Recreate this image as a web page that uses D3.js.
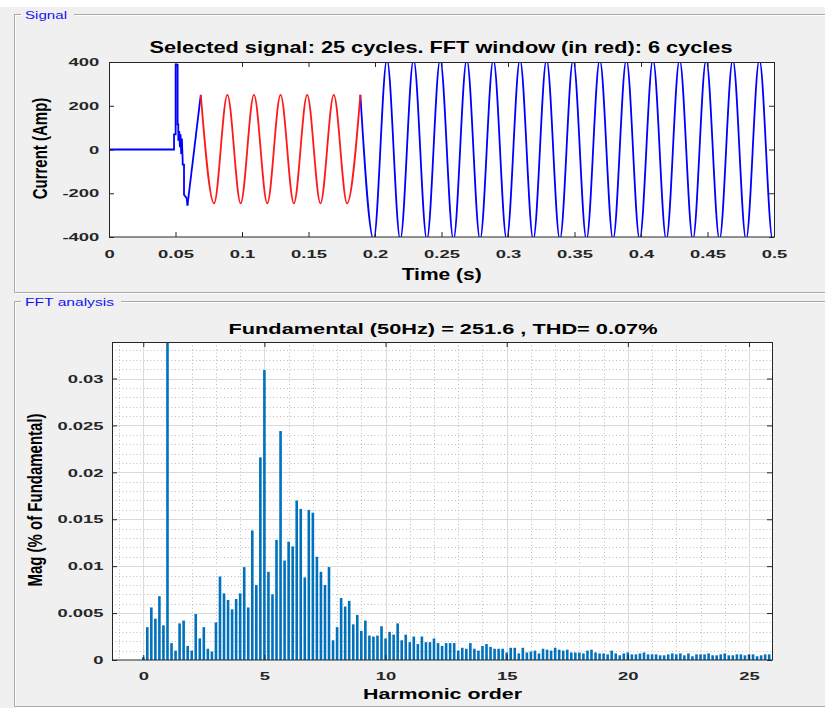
<!DOCTYPE html>
<html lang="en">
<head>
<meta charset="UTF-8">
<title>Signal and FFT analysis</title>
<script src="https://d3js.org/d3.v7.min.js"></script>
<style>
  body { margin: 0; background: #f0f0f0; }
  svg { display: block; font-family: "Liberation Sans", Arial, sans-serif; }
  .tick text { font-weight: bold; font-size: 11.5px; fill: #262626; }
  .tick line { stroke: #262626; }
  .domain { display: none; }
</style>
</head>
<body>
<svg width="825" height="708"></svg>
<script>
// ---- data ----
// signal: switching transient at 0.05 s (drawn as read)
const transientPts = [
  [0, 0], [0.0489, 0], [0.0489, 69], [0.0501, 69], [0.0501, 388], [0.0516, 388],
  [0.0516, 115], [0.0521, 115], [0.0521, 40], [0.0528, 84], [0.0533, 10], [0.0538, 70],
  [0.0543, -20], [0.0548, 50], [0.0554, -54], [0.0554, -69], [0.0564, -69],
  [0.0564, -207], [0.0584, -222], [0.059, -256]
];
// half-cycle peaks / troughs of the current after the transient
const extremaT = [0.059, 0.069, 0.079, 0.089, 0.099, 0.109, 0.119, 0.129, 0.139, 0.149,
  0.159, 0.169, 0.179, 0.189, 0.199, 0.209, 0.219, 0.229, 0.239, 0.249, 0.259, 0.269,
  0.279, 0.289, 0.299, 0.309, 0.319, 0.329, 0.339, 0.349, 0.359, 0.369, 0.379, 0.389,
  0.399, 0.409, 0.419, 0.429, 0.439, 0.449, 0.459, 0.469, 0.479, 0.489, 0.499, 0.5];
const extremaI = [-256, 250, -246, 250, -246, 250, -246, 250, -246, 250,
  -246, 250, -246, 250, -412, 412, -412, 412, -412, 412, -412, 412,
  -412, 412, -412, 412, -412, 412, -412, 412, -412, 412, -412, 412,
  -412, 412, -412, 412, -412, 412, -412, 412, -412, 412, -412, -410];
const fftWindow = [0.069, 0.189];   // red part

const timeTicks = [0, 0.05, 0.1, 0.15, 0.2, 0.25, 0.3, 0.35, 0.4, 0.45, 0.5];
const timeLabels = ["0", "0.05", "0.1", "0.15", "0.2", "0.25", "0.3", "0.35", "0.4", "0.45", "0.5"];
const currTicks = [-400, -200, 0, 200, 400];
const currLabels = ["-400", "-200", "0", "200", "400"];

// FFT magnitudes, one bar every 1/6 harmonic (6-cycle window); index 6 = fundamental
const fftMag = [
  0.0003, 0.0035, 0.0056, 0.0044, 0.0068, 0.0037, 100, 0.0018, 0.0010, 0.0039,
  0.0042, 0.0015, 0.0010, 0.0049, 0.0023, 0.0035, 0.0012, 0.0009, 0.0040, 0.0089,
  0.0071, 0.0064, 0.0054, 0.0065, 0.0071, 0.0099, 0.0056, 0.0138, 0.0080, 0.0216,
  0.0309, 0.0094, 0.0070, 0.0128, 0.0244, 0.0106, 0.0126, 0.0121, 0.0170, 0.0161,
  0.0088, 0.0160, 0.0157, 0.0110, 0.0094, 0.0080, 0.0099, 0.0021, 0.0035, 0.0066,
  0.0057, 0.0063, 0.0038, 0.0048, 0.0031, 0.0042, 0.0026, 0.0025, 0.0026, 0.0036,
  0.0023, 0.0030, 0.0027, 0.0039, 0.0021, 0.0027, 0.0019, 0.0025, 0.0017, 0.0025,
  0.0019, 0.0019, 0.0023, 0.0018, 0.0015, 0.0018, 0.0018, 0.0018, 0.0010, 0.0013,
  0.0012, 0.0018, 0.0012, 0.0010, 0.0015, 0.0017, 0.0014, 0.0012, 0.0012, 0.0012,
  0.0008, 0.0013, 0.0013, 0.0007, 0.0013, 0.0008, 0.0009, 0.0010, 0.0007, 0.0012,
  0.0011, 0.0010, 0.0013, 0.0011, 0.0010, 0.0011, 0.0008, 0.0008, 0.0008, 0.0007,
  0.0010, 0.0011, 0.0008, 0.0007, 0.0007, 0.0006, 0.0010, 0.0007, 0.0005, 0.0007,
  0.0008, 0.0006, 0.0006, 0.0007, 0.0008, 0.0006, 0.0006, 0.0006, 0.0005, 0.0005,
  0.0006, 0.0007, 0.0006, 0.0007, 0.0005, 0.0007, 0.0004, 0.0006, 0.0006, 0.0006,
  0.0007, 0.0005, 0.0005, 0.0006, 0.0007, 0.0005, 0.0005, 0.0006, 0.0006, 0.0005,
  0.0006, 0.0006, 0.0004, 0.0005, 0.0006, 0.0006
];
const binsPerHarmonic = 6;

const orderTicks = [0, 5, 10, 15, 20, 25];
const orderLabels = ["0", "5", "10", "15", "20", "25"];
const magTicks = [0, 0.005, 0.01, 0.015, 0.02, 0.025, 0.03];
const magLabels = ["0", "0.005", "0.01", "0.015", "0.02", "0.025", "0.03"];

// ---- drawing ----
const svg = d3.select("svg");
const axisCol = "#262626";

// white strip at the very top of the window
svg.append("rect").attr("x", 0).attr("y", 0).attr("width", 825).attr("height", 7).attr("fill", "#fff");

// stretch text horizontally like the reference screenshot
function widen(sel, k) {
  sel.each(function () {
    const w = this.getComputedTextLength();
    d3.select(this).attr("textLength", w * k).attr("lengthAdjust", "spacingAndGlyphs");
  });
}

function panel(top, bottom, label, labelW) {
  const g = svg.append("g");
  const etched = (x1, y1, x2, y2) => {
    g.append("line").attr("x1", x1).attr("y1", y1).attr("x2", x2).attr("y2", y2)
      .attr("stroke", "#a8a8a8");
    g.append("line").attr("x1", x1 + 1).attr("y1", y1 + 1).attr("x2", x2 + 1).attr("y2", y2 + 1)
      .attr("stroke", "#fff");
  };
  etched(14.5, top, 21, top);
  etched(25 + labelW + 7, top, 826, top);
  etched(14.5, top, 14.5, bottom);
  etched(14.5, bottom, 826, bottom);
  g.append("text").attr("x", 25).attr("y", top + 4.5)
    .attr("font-size", 11).attr("fill", "#1414f0").text(label)
    .attr("textLength", labelW).attr("lengthAdjust", "spacingAndGlyphs");
}
panel(14.5, 292.5, "Signal", 42);
panel(301.5, 706.5, "FFT analysis", 89);

function boldText(x, y, txt, size, width) {
  return svg.append("text").attr("x", x).attr("y", y).attr("text-anchor", "middle")
    .attr("font-weight", "bold").attr("font-size", size).attr("fill", "#000")
    .attr("textLength", width).attr("lengthAdjust", "spacingAndGlyphs").text(txt);
}
function yTitle(x, y, txt, size) {
  svg.append("text").attr("transform", `translate(${x},${y}) rotate(-90) scale(1,1.32)`)
    .attr("text-anchor", "middle").attr("font-weight", "bold").attr("font-size", size)
    .attr("fill", "#000").text(txt);
}

// ================= signal panel =================
const s = { l: 109, r: 774, t: 62, b: 237 };
const x1 = d3.scaleLinear().domain([0, 0.5]).range([s.l, s.r]);
const y1 = d3.scaleLinear().domain([-400, 400]).range([s.b, s.t]);

svg.append("rect").attr("x", s.l).attr("y", s.t).attr("width", s.r - s.l).attr("height", s.b - s.t)
  .attr("fill", "#fff");
svg.append("clipPath").attr("id", "clipSig").append("rect")
  .attr("x", s.l).attr("y", s.t).attr("width", s.r - s.l).attr("height", s.b - s.t);

const steady = extremaT.map((t, i) => [t, extremaI[i]]);
const eps = 1e-9;
const beforeWin = steady.filter(d => d[0] <= fftWindow[0] + eps);
const inWin = steady.filter(d => d[0] >= fftWindow[0] - eps && d[0] <= fftWindow[1] + eps);
const afterWin = steady.filter(d => d[0] >= fftWindow[1] - eps);

const lineLin = d3.line().x(d => x1(d[0])).y(d => y1(d[1]));
const lineSmooth = d3.line().x(d => x1(d[0])).y(d => y1(d[1])).curve(d3.curveMonotoneX);

const sig = svg.append("g").attr("clip-path", "url(#clipSig)")
  .attr("fill", "none").attr("stroke-width", 1.8);
sig.append("path").attr("d", lineLin(transientPts)).attr("stroke", "#0000ff");
sig.append("path").attr("d", lineSmooth(beforeWin)).attr("stroke", "#0000ff");
sig.append("path").attr("d", lineSmooth(afterWin)).attr("stroke", "#0000ff");
sig.append("path").attr("d", lineSmooth(inWin)).attr("stroke", "#ff1a1a");

svg.append("g").attr("transform", `translate(0,${s.b})`)
  .call(d3.axisBottom(x1).tickValues(timeTicks).tickFormat((d, i) => timeLabels[i])
    .tickSize(-5).tickPadding(13))
  .selectAll("text").call(widen, 1.6);
svg.append("g").attr("transform", `translate(0,${s.t})`)
  .call(d3.axisTop(x1).tickValues(timeTicks).tickFormat("").tickSize(-5));
svg.append("g").attr("transform", `translate(${s.l},0)`)
  .call(d3.axisLeft(y1).tickValues(currTicks).tickFormat((d, i) => currLabels[i])
    .tickSize(-5).tickPadding(9.7))
  .selectAll("text").call(widen, 1.6);
svg.append("g").attr("transform", `translate(${s.r},0)`)
  .call(d3.axisRight(y1).tickValues(currTicks).tickFormat("").tickSize(-5));
svg.append("rect").attr("x", s.l + 0.5).attr("y", s.t + 0.5).attr("width", s.r - s.l)
  .attr("height", s.b - s.t - 0.5).attr("fill", "none").attr("stroke", axisCol);

boldText(441, 52.5, "Selected signal: 25 cycles. FFT window (in red): 6 cycles", 16.5, 583);
boldText(441.7, 279.5, "Time (s)", 16, 80);
yTitle(47, 148.5, "Current (Amp)", 15);

// ================= FFT panel =================
const f = { l: 112, r: 772, t: 342, b: 660 };
const x2 = d3.scaleLinear().domain([-1.29, 25.95]).range([f.l, f.r]);
const y2 = d3.scaleLinear().domain([0, 0.03]).range([f.b, 378.5]);

svg.append("rect").attr("x", f.l).attr("y", f.t).attr("width", f.r - f.l).attr("height", f.b - f.t)
  .attr("fill", "#fff");
svg.append("clipPath").attr("id", "clipFft").append("rect")
  .attr("x", f.l).attr("y", f.t).attr("width", f.r - f.l).attr("height", f.b - f.t);

const grid = svg.append("g").attr("clip-path", "url(#clipFft)");
const minorX = d3.range(-1, 26).filter(v => v % 5 !== 0);
const minorY = d3.range(1, 34).map(v => v / 1000).filter((v, i) => (i + 1) % 5 !== 0);
grid.selectAll(".mx").data(minorX).join("line")
  .attr("x1", d => Math.round(x2(d)) + 0.5).attr("x2", d => Math.round(x2(d)) + 0.5)
  .attr("y1", f.t).attr("y2", f.b)
  .attr("stroke", "#bdbdbd").attr("stroke-dasharray", "1,2.5");
grid.selectAll(".my").data(minorY).join("line")
  .attr("y1", d => Math.round(y2(d)) + 0.5).attr("y2", d => Math.round(y2(d)) + 0.5)
  .attr("x1", f.l).attr("x2", f.r)
  .attr("stroke", "#bdbdbd").attr("stroke-dasharray", "1,2.5");
grid.selectAll(".gx").data(orderTicks).join("line")
  .attr("x1", d => Math.round(x2(d)) + 0.5).attr("x2", d => Math.round(x2(d)) + 0.5)
  .attr("y1", f.t).attr("y2", f.b).attr("stroke", "#dadada");
grid.selectAll(".gy").data(magTicks.slice(1)).join("line")
  .attr("y1", d => Math.round(y2(d)) + 0.5).attr("y2", d => Math.round(y2(d)) + 0.5)
  .attr("x1", f.l).attr("x2", f.r).attr("stroke", "#dadada");

const barW = 2.6;
grid.selectAll(".bar").data(fftMag).join("rect")
  .attr("x", (d, i) => x2(i / binsPerHarmonic) - barW / 2)
  .attr("y", d => y2(d))
  .attr("width", barW)
  .attr("height", d => f.b - y2(d))
  .attr("fill", "#0072bd");

svg.append("g").attr("transform", `translate(0,${f.b})`)
  .call(d3.axisBottom(x2).tickValues(orderTicks).tickFormat((d, i) => orderLabels[i])
    .tickSize(-5).tickPadding(12))
  .selectAll("text").call(widen, 1.6);
svg.append("g").attr("transform", `translate(0,${f.t})`)
  .call(d3.axisTop(x2).tickValues(orderTicks).tickFormat("").tickSize(-5));
svg.append("g").attr("transform", `translate(${f.l},0)`)
  .call(d3.axisLeft(y2).tickValues(magTicks).tickFormat((d, i) => magLabels[i])
    .tickSize(-5).tickPadding(8.5))
  .selectAll("text").call(widen, 1.6);
svg.append("g").attr("transform", `translate(${f.r},0)`)
  .call(d3.axisRight(y2).tickValues(magTicks).tickFormat("").tickSize(-5));
svg.append("rect").attr("x", f.l + 0.5).attr("y", f.t + 0.5).attr("width", f.r - f.l)
  .attr("height", f.b - f.t - 0.5).attr("fill", "none").attr("stroke", axisCol);

boldText(443, 334.3, "Fundamental (50Hz) = 251.6 , THD= 0.07%", 15.5, 429);
boldText(442.5, 698.5, "Harmonic order", 15.5, 159);
yTitle(41.5, 500, "Mag (% of Fundamental)", 15);
</script>
</body>
</html>
